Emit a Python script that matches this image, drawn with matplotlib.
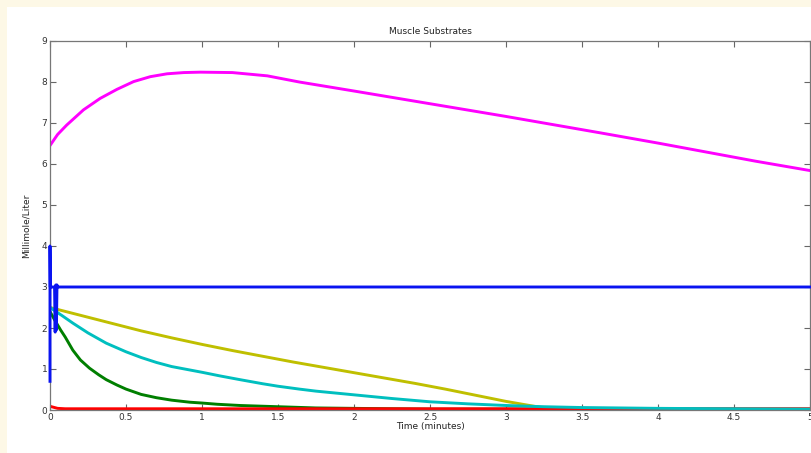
import numpy as np
import matplotlib.pyplot as plt
from matplotlib.patches import Rectangle

# values (minutes, mmol/L)
t_mag = [0, 0.05, 0.11, 0.22, 0.33, 0.44, 0.55, 0.66, 0.77, 0.88, 0.99, 1.2, 1.43, 1.64,
         2.0, 2.5, 3.0, 3.62, 4.0, 4.64, 5.0]
y_mag = [6.45, 6.72, 6.95, 7.32, 7.6, 7.82, 8.01, 8.13, 8.2, 8.23, 8.24, 8.23, 8.15, 8.0,
         7.78, 7.47, 7.16, 6.76, 6.51, 6.07, 5.84]

t_blue = [0, 0, 0.002, 0.03, 0.034, 0.038, 0.042, 0.046, 0.05, 5.0]
y_blue = [0.7, 4.0, 3.0, 3.0, 1.9, 3.05, 1.95, 3.05, 3.0, 3.0]

t_yel = [0, 0.2, 0.4, 0.6, 0.8, 1.0, 1.2, 1.4, 1.6, 1.8, 2.0, 2.2, 2.4, 2.6,
         2.8, 3.0, 3.14, 3.25, 3.32, 3.5, 5.0]
y_yel = [2.5, 2.31, 2.12, 1.93, 1.76, 1.6, 1.45, 1.31, 1.17, 1.04, 0.91, 0.78, 0.65, 0.51,
         0.36, 0.21, 0.12, 0.05, 0.02, 0.01, 0.01]

t_cyan = [0, 0.08, 0.15, 0.25, 0.37, 0.5, 0.6, 0.7, 0.8, 0.9, 1.0, 1.12, 1.25, 1.4, 1.5,
          1.64, 1.75, 2.0, 2.25, 2.5, 2.75, 3.0, 3.25, 3.5, 4.0, 4.5, 5.0]
y_cyan = [2.5, 2.3, 2.12, 1.88, 1.63, 1.42, 1.28, 1.16, 1.06, 0.99, 0.92, 0.83, 0.74, 0.64,
          0.58, 0.51, 0.46, 0.37, 0.28, 0.2, 0.15, 0.11, 0.08, 0.06, 0.04, 0.03, 0.02]

t_grn = [0, 0.03, 0.07, 0.1, 0.15, 0.2, 0.26, 0.32, 0.37, 0.44, 0.5, 0.6, 0.7, 0.8, 0.92,
         1.0, 1.1, 1.25, 1.5, 1.75, 2.0, 2.5, 3.0, 5.0]
y_grn = [2.4, 2.2, 1.95, 1.78, 1.46, 1.22, 1.02, 0.86, 0.74, 0.61, 0.51, 0.38, 0.3, 0.24,
         0.19, 0.17, 0.14, 0.11, 0.08, 0.05, 0.04, 0.02, 0.02, 0.02]

t_red = [0, 0.02, 0.05, 0.1, 1.0, 3.0, 4.0, 5.0]
y_red = [0.09, 0.07, 0.04, 0.03, 0.03, 0.03, 0.03, 0.03]

fig = plt.figure(figsize=(8.11, 4.53), dpi=100)
fig.patch.set_facecolor('#fdf8e6')
fig.patches.append(Rectangle((7 / 811, 0), 1, 1 - 7 / 453, transform=fig.transFigure,
                             facecolor='white', edgecolor='none', zorder=-1))

ax = fig.add_axes([50 / 811, 1 - 410 / 453, 760 / 811, 369 / 453])
lw = 2.1
ax.plot(t_grn, y_grn, color='#007f00', lw=lw)
ax.plot(t_yel, y_yel, color='#bfbf00', lw=lw)
ax.plot(t_red, y_red, color='#ff0000', lw=lw)
ax.plot(t_cyan, y_cyan, color='#00bfbf', lw=lw)
ax.plot(t_blue, y_blue, color='#0a14f0', lw=lw, zorder=3, clip_on=False)
ax.plot(t_mag, y_mag, color='#ff00ff', lw=lw)

ax.set_xlim(0, 5)
ax.set_ylim(0, 9)
ax.set_xticks(np.arange(0, 5.01, 0.5))
ax.set_xticklabels(['0', '0.5', '1', '1.5', '2', '2.5', '3', '3.5', '4', '4.5', '5'])
ax.set_yticks(range(10))
ax.tick_params(direction='in', top=True, right=True, length=4, width=0.8,
               colors='#666666', labelcolor='#333333', labelsize=6.5, pad=2)
for s in ax.spines.values():
    s.set_color('#777777')
    s.set_linewidth(0.9)

ax.set_title('Muscle Substrates', fontsize=6.5, color='#222222', pad=5)
ax.set_xlabel('Time (minutes)', fontsize=6.5, color='#222222', labelpad=0)
ax.set_ylabel('Millimole/Liter', fontsize=6.5, color='#222222', labelpad=8)

fig.savefig('out.png', dpi=100)
